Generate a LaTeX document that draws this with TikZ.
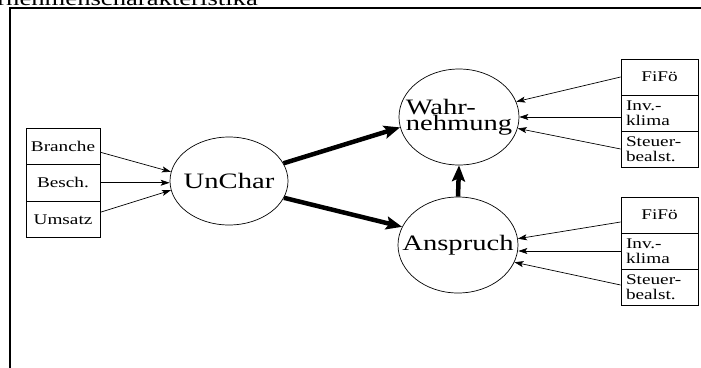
\documentclass[tikz,border=0pt]{standalone}
\usepackage{fontspec}
\setmainfont{Liberation Serif}
\newfontfamily\widefont[FakeStretch=1.3]{Liberation Serif}
\usetikzlibrary{arrows.meta,shapes.geometric}
\begin{document}
\begin{tikzpicture}[x=1pt,y=-1pt,
  cell/.style={draw, line width=0.8pt, minimum width=74pt, minimum height=36.5pt,
    inner sep=0pt, font=\widefont\fontsize{14.8}{14.8}\selectfont},
  rcell/.style={draw, line width=0.8pt, text width=67pt, inner xsep=5pt, inner ysep=0pt,
    minimum height=36pt, align=left, font=\widefont\fontsize{14.8}{14.8}\selectfont},
  bubble/.style={draw, ellipse, line width=0.7pt, inner sep=0pt},
  bubbletext/.style={font=\widefont\fontsize{22}{16}\selectfont, align=left, inner sep=0pt},
  feed/.style={-{Stealth[length=9pt,width=6pt,inset=2pt]}, line width=0.7pt},
  mainarrow/.style={-{Stealth[length=16pt,width=13pt,inset=3pt]}, line width=4.5pt}]
\useasboundingbox (0,0) rectangle (701,367);
\clip (0,0) rectangle (701,367);

% heading and frame
\node[anchor=base east, inner sep=0pt, font=\widefont\fontsize{20.5}{20.5}\selectfont]
  (title) at (258,5) {Unternehmenscharakteristika};
\draw[line width=1.3pt] (10,400) -- (10,8) -- (720,8);

% input boxes, left
\node[cell] (br) at (63,146.25) {Branche};
\node[cell] (bs) at (63,182.75) {Besch.};
\node[cell] (um) at (63,219.25) {Umsatz};

% input boxes, right top
\node[rcell, align=center] (ff1) at (659.5,77) {FiFö};
\node[rcell] (iv1) at (659.5,113) {Inv.-\\klima};
\node[rcell] (st1) at (659.5,149) {Steuer-\\bealst.};

% input boxes, right bottom
\node[rcell, align=center] (ff2) at (659.5,215) {FiFö};
\node[rcell] (iv2) at (659.5,251) {Inv.-\\klima};
\node[rcell] (st2) at (659.5,287) {Steuer-\\bealst.};

% constructs
\node[bubble, minimum width=118pt, minimum height=88pt,
  label={[bubbletext]center:UnChar}] (uc) at (229,181) {};
\node[bubble, minimum width=120pt, minimum height=96pt,
  label={[bubbletext]center:Wahr-\\nehmung}] (wa) at (459,117) {};
\node[bubble, minimum width=120pt, minimum height=96pt,
  label={[bubbletext]center:Anspruch}] (an) at (458,245) {};

% thin feeder arrows
\draw[feed] ([yshift=-6pt]br.east) -- (uc.171);
\draw[feed] (bs.east) -- (bs.east -| uc.west);
\draw[feed] ([yshift=7pt]um.east) -- (uc.189);

\draw[feed] (ff1.west) -- (wa.15);
\draw[feed] ([yshift=-4pt]iv1.west) -- (wa.east);
\draw[feed] (st1.west) -- (wa.-11);

\draw[feed] ([yshift=-7pt]ff2.west) -- (an.6);
\draw[feed] (iv2.west) -- (iv2.west -| an.east);
\draw[feed] ([yshift=2pt]st2.west) -- (an.-17);

% main paths
\draw[mainarrow] (uc.18) -- (wa.190);
\draw[mainarrow] (uc.-17) -- (an.162);
\draw[mainarrow] (an.north) -- (wa.south);
\end{tikzpicture}
\end{document}
